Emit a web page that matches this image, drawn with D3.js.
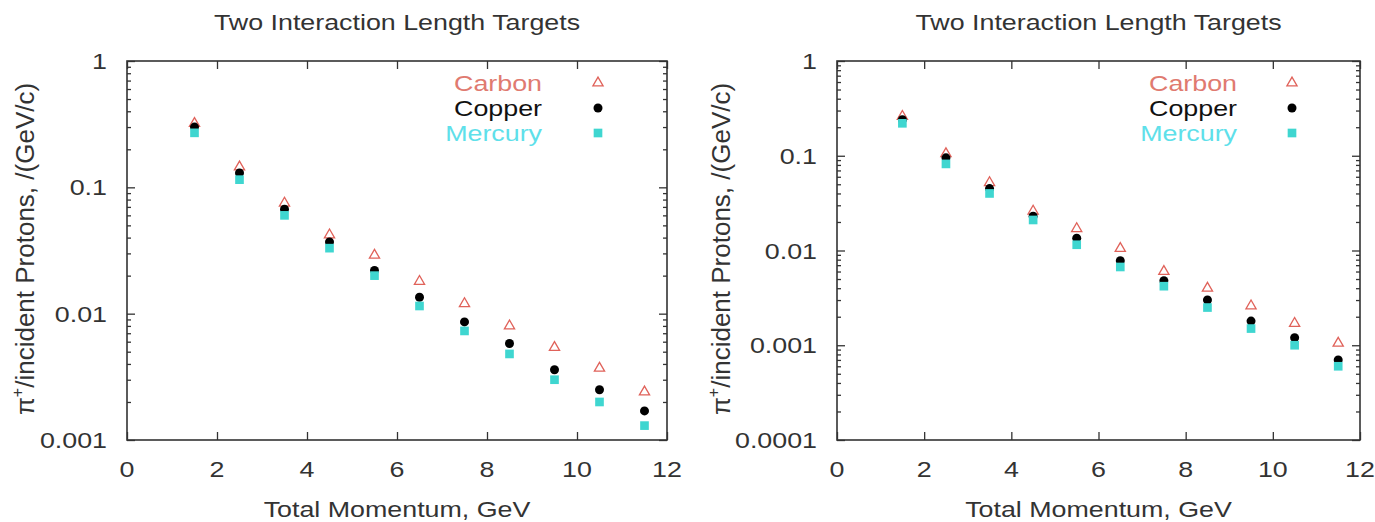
<!DOCTYPE html>
<html>
<head>
<meta charset="utf-8">
<script src="https://cdn.jsdelivr.net/npm/d3@7"></script>
<style>
  body { margin: 0; background: #fff; }
  text { font-family: "Liberation Sans", Arial, sans-serif; fill: #333; }
</style>
</head>
<body>
<div id="chart"></div>
<script>
// data
var momentum = [1.5, 2.5, 3.5, 4.5, 5.5, 6.5, 7.5, 8.5, 9.5, 10.5, 11.5];
var seriesNames = ["Carbon", "Copper", "Mercury"];

var leftCarbon  = [0.32, 0.145, 0.075, 0.042, 0.029, 0.018, 0.012, 0.008, 0.0054, 0.0037, 0.0024];
var leftCopper  = [0.30, 0.13, 0.067, 0.037, 0.022, 0.0135, 0.0086, 0.0058, 0.0036, 0.0025, 0.0017];
var leftMercury = [0.27, 0.115, 0.06, 0.033, 0.020, 0.0115, 0.0073, 0.0048, 0.003, 0.002, 0.0013];

var rightCarbon  = [0.26, 0.105, 0.052, 0.026, 0.017, 0.0105, 0.006, 0.004, 0.0026, 0.0017, 0.00105];
var rightCopper  = [0.24, 0.095, 0.045, 0.023, 0.0135, 0.0078, 0.0048, 0.003, 0.0018, 0.0012, 0.0007];
var rightMercury = [0.22, 0.082, 0.040, 0.021, 0.0115, 0.0067, 0.0042, 0.0025, 0.0015, 0.001, 0.0006];

var xTicks = [0, 2, 4, 6, 8, 10, 12];
var leftYTicks = [1, 0.1, 0.01, 0.001];
var rightYTicks = [1, 0.1, 0.01, 0.001, 0.0001];

var title = "Two Interaction Length Targets";
var xTitle = "Total Momentum, GeV";

// look
var colors = {Carbon: "#e0625a", Copper: "#000000", Mercury: "#3fd6d0"};
var legendColors = {Carbon: "#e07a70", Copper: "#111111", Mercury: "#5ee0ea"};
var fontSize = 22;
var stretch = 1.22;   // the picture is wider than tall

var svg = d3.select("#chart").append("svg").attr("width", 1375).attr("height", 522);

function stretchedText(g, x, y, str, anchor, size) {
    return g.append("text")
        .attr("transform", "translate(" + x + "," + y + ") scale(" + stretch + ",1)")
        .attr("text-anchor", anchor)
        .style("font-size", (size || fontSize) + "px")
        .text(str);
}

function minorTicks(yTicks) {
    var out = [];
    yTicks.slice(1).forEach(function(d) {
        for (var k = 2; k <= 9; k++) out.push(d * k);
    });
    return out;
}

function panel(opts) {
    var g = svg.append("g");
    var x = d3.scaleLinear().domain([0, 12]).range([opts.left, opts.right]);
    var y = d3.scaleLog().domain([d3.min(opts.yTicks), 1]).range([opts.bottom, opts.top]);

    // major/minor ticks, pointing inward, on all four sides
    g.append("g").attr("transform", "translate(0," + opts.bottom + ")")
        .call(d3.axisBottom(x).tickValues(xTicks).tickSize(-8).tickFormat(""));
    g.append("g").attr("transform", "translate(0," + opts.top + ")")
        .call(d3.axisTop(x).tickValues(xTicks).tickSize(-8).tickFormat(""));
    g.append("g").attr("transform", "translate(" + opts.left + ",0)")
        .call(d3.axisLeft(y).tickValues(opts.yTicks).tickSize(-8).tickFormat(""));
    g.append("g").attr("transform", "translate(" + opts.right + ",0)")
        .call(d3.axisRight(y).tickValues(opts.yTicks).tickSize(-8).tickFormat(""));
    g.append("g").attr("transform", "translate(" + opts.left + ",0)")
        .call(d3.axisLeft(y).tickValues(minorTicks(opts.yTicks)).tickSize(-4).tickFormat(""));
    g.append("g").attr("transform", "translate(" + opts.right + ",0)")
        .call(d3.axisRight(y).tickValues(minorTicks(opts.yTicks)).tickSize(-4).tickFormat(""));
    g.selectAll(".domain").remove();
    g.selectAll(".tick line").attr("stroke", "#333").attr("stroke-width", 1.3);

    // frame
    g.append("rect")
        .attr("x", opts.left).attr("y", opts.top)
        .attr("width", opts.right - opts.left).attr("height", opts.bottom - opts.top)
        .attr("fill", "none").attr("stroke", "#333").attr("stroke-width", 1.6);

    // tick labels
    xTicks.forEach(function(d) {
        stretchedText(g, x(d), opts.bottom + 37, String(d), "middle");
    });
    opts.yTicks.forEach(function(d) {
        stretchedText(g, opts.left - 20, y(d) + 8, String(d), "end");
    });

    // titles
    var cx = (opts.left + opts.right) / 2;
    stretchedText(g, cx, 30, title, "middle");
    stretchedText(g, cx, 517, xTitle, "middle");

    var yl = g.append("text")
        .attr("transform", "translate(" + opts.ylabelX + ",249) rotate(-90)")
        .attr("text-anchor", "middle")
        .style("font-size", "26px");
    yl.append("tspan").text("\u03c0");
    yl.append("tspan").attr("dy", -11).style("font-size", "16px").text("+");
    yl.append("tspan").attr("dy", 11).text("/incident Protons, /(GeV/c)");

    // points
    var series = [
        {name: "Carbon", values: opts.carbon},
        {name: "Copper", values: opts.copper},
        {name: "Mercury", values: opts.mercury}
    ];
    var tri = d3.symbol().type(d3.symbolTriangle).size(45);
    var sq = d3.symbol().type(d3.symbolSquare).size(75);

    series.forEach(function(s) {
        var pts = g.selectAll(".pt-" + s.name).data(s.values).enter();
        if (s.name === "Carbon") {
            pts.append("path").attr("d", tri)
                .attr("transform", function(d, i) { return "translate(" + x(momentum[i]) + "," + y(d) + ")"; })
                .attr("fill", "none").attr("stroke", colors.Carbon).attr("stroke-width", 1.3);
        } else if (s.name === "Copper") {
            pts.append("circle")
                .attr("cx", function(d, i) { return x(momentum[i]); })
                .attr("cy", function(d) { return y(d); })
                .attr("r", 4.5).attr("fill", colors.Copper);
        } else {
            pts.append("path").attr("d", sq)
                .attr("transform", function(d, i) { return "translate(" + x(momentum[i]) + "," + y(d) + ")"; })
                .attr("fill", colors.Mercury);
        }
    });

    // legend
    seriesNames.forEach(function(name, i) {
        var ly = 83 + i * 25;
        stretchedText(g, opts.legendX, ly + 8, name, "end").style("fill", legendColors[name]);
        var sx = opts.legendSymX;
        if (name === "Carbon") {
            g.append("path").attr("d", tri).attr("transform", "translate(" + sx + "," + ly + ")")
                .attr("fill", "none").attr("stroke", colors.Carbon).attr("stroke-width", 1.3);
        } else if (name === "Copper") {
            g.append("circle").attr("cx", sx).attr("cy", ly).attr("r", 4.5).attr("fill", colors.Copper);
        } else {
            g.append("path").attr("d", sq).attr("transform", "translate(" + sx + "," + ly + ")")
                .attr("fill", colors.Mercury);
        }
    });
}

panel({left: 127, right: 667, top: 61, bottom: 440, yTicks: leftYTicks, ylabelX: 34,
       legendX: 542, legendSymX: 598, carbon: leftCarbon, copper: leftCopper, mercury: leftMercury});
panel({left: 837, right: 1360, top: 61, bottom: 440, yTicks: rightYTicks, ylabelX: 730,
       legendX: 1237, legendSymX: 1292, carbon: rightCarbon, copper: rightCopper, mercury: rightMercury});
</script>
</body>
</html>
